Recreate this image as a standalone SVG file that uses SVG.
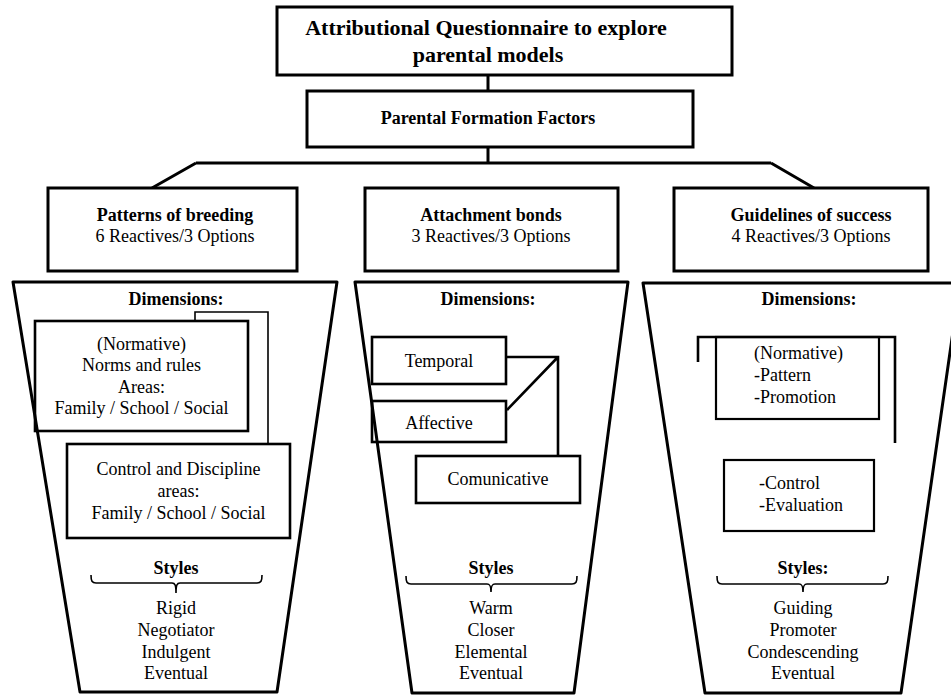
<svg xmlns="http://www.w3.org/2000/svg" width="951" height="697" viewBox="0 0 951 697" font-family="'Liberation Serif', 'DejaVu Serif', serif">
<style>
text{font-family:'Liberation Serif','DejaVu Serif',serif;font-size:18px;fill:#000}
.b{font-weight:bold}
.m{text-anchor:middle}
.box{fill:#fff;stroke:#000;stroke-width:3}
.inb{fill:none;stroke:#000;stroke-width:2.6}
.thin{fill:none;stroke:#000;stroke-width:1.6}
.fun{fill:#fff;stroke:#000;stroke-width:3;stroke-linejoin:round}
.con{fill:none;stroke:#000;stroke-width:3}
.br{fill:none;stroke:#000;stroke-width:1.6}
</style>
<rect width="951" height="697" fill="#fff"/>
<g id="connectors">
<path class="con" d="M488 75V92M488 147V163M196 163H771M196 163L152 188M771 163L814 188"/>
</g>
<g id="title">
<rect class="box" x="277" y="7" width="455" height="68"/>
<text class="b m" x="486" y="35" style="font-size:22px">Attributional Questionnaire to explore</text>
<text class="b m" x="488" y="62" style="font-size:22px">parental models</text>
</g>
<g id="pff">
<rect class="box" x="307" y="91" width="386" height="56"/>
<text class="b m" x="488" y="124">Parental Formation Factors</text>
</g>
<g id="factor-breeding">
<rect class="box" x="48" y="188" width="249" height="83"/>
<text class="b m" x="175" y="221">Patterns of breeding</text>
<text class="m" x="175" y="242">6 Reactives/3 Options</text>
</g>
<g id="factor-attachment">
<rect class="box" x="365" y="188" width="253" height="83"/>
<text class="b m" x="491" y="221">Attachment bonds</text>
<text class="m" x="491" y="242">3 Reactives/3 Options</text>
</g>
<g id="factor-success">
<rect class="box" x="674" y="188" width="254" height="83"/>
<text class="b m" x="811" y="221">Guidelines of success</text>
<text class="m" x="811" y="242">4 Reactives/3 Options</text>
</g>
<g id="funnel-breeding">
<polygon class="fun" points="13,282 337,282 277,692 80,692"/>
<text class="b m" x="176" y="305">Dimensions:</text>
<path class="thin" d="M195 321V312H268V444"/>
<rect class="inb" x="35" y="321" width="213" height="110"/>
<text class="m" x="141.5" y="350">(Normative)</text>
<text class="m" x="141.5" y="371">Norms and rules</text>
<text class="m" x="141.5" y="393">Areas:</text>
<text class="m" x="141.5" y="414">Family / School / Social</text>
<rect class="inb" x="67" y="444" width="223" height="94"/>
<text class="m" x="178.5" y="475">Control and Discipline</text>
<text class="m" x="178.5" y="497">areas:</text>
<text class="m" x="178.5" y="519">Family / School / Social</text>
<text class="b m" x="176" y="574">Styles</text>
<path class="br" d="M91 575C91 581 92 583 96 583H172C175 583 176 585 176 593M176 593C176 585 177 583 180 583H257C261 583 262 581 262 575"/>
<text class="m" x="176" y="614">Rigid</text>
<text class="m" x="176" y="636">Negotiator</text>
<text class="m" x="176" y="658">Indulgent</text>
<text class="m" x="176" y="679">Eventual</text>
</g>
<g id="funnel-attachment">
<polygon class="fun" points="355,282 628,282 574,693 412,693"/>
<text class="b m" x="488" y="305">Dimensions:</text>
<rect class="inb" x="372" y="337" width="134" height="47"/>
<text class="m" x="439" y="367">Temporal</text>
<rect class="inb" x="372" y="401" width="134" height="41"/>
<text class="m" x="439" y="429">Affective</text>
<path class="inb" d="M506 357H558V456M558 357L507 410"/>
<rect class="inb" x="416" y="456" width="164" height="47"/>
<text class="m" x="498" y="485">Comunicative</text>
<text class="b m" x="491" y="574">Styles</text>
<path class="br" d="M406 576C406 582 407 584 411 584H487C490 584 491 586 491 592M491 592C491 586 492 584 495 584H572C576 584 577 582 577 576"/>
<text class="m" x="491" y="614">Warm</text>
<text class="m" x="491" y="636">Closer</text>
<text class="m" x="491" y="658">Elemental</text>
<text class="m" x="491" y="679">Eventual</text>
</g>
<g id="funnel-success">
<polygon class="fun" points="643,283 960,283 901,693 705,693"/>
<text class="b m" x="809" y="305">Dimensions:</text>
<path class="inb" d="M698 362V337H895V443"/>
<rect class="inb" x="716" y="337" width="163" height="82" style="stroke-width:2.2"/>
<text x="754" y="359">(Normative)</text>
<text x="754" y="381">-Pattern</text>
<text x="754" y="403">-Promotion</text>
<rect class="inb" x="724" y="460" width="150" height="71" style="stroke-width:2.2"/>
<text x="759" y="489">-Control</text>
<text x="759" y="511">-Evaluation</text>
<text class="b m" x="803" y="574">Styles:</text>
<path class="br" d="M717 576C717 582 718 584 722 584H799C802 584 803 586 803 592M803 592C803 586 804 584 807 584H883C887 584 888 582 888 576"/>
<text class="m" x="803" y="614">Guiding</text>
<text class="m" x="803" y="636">Promoter</text>
<text class="m" x="803" y="658">Condescending</text>
<text class="m" x="803" y="679">Eventual</text>
</g>
</svg>
